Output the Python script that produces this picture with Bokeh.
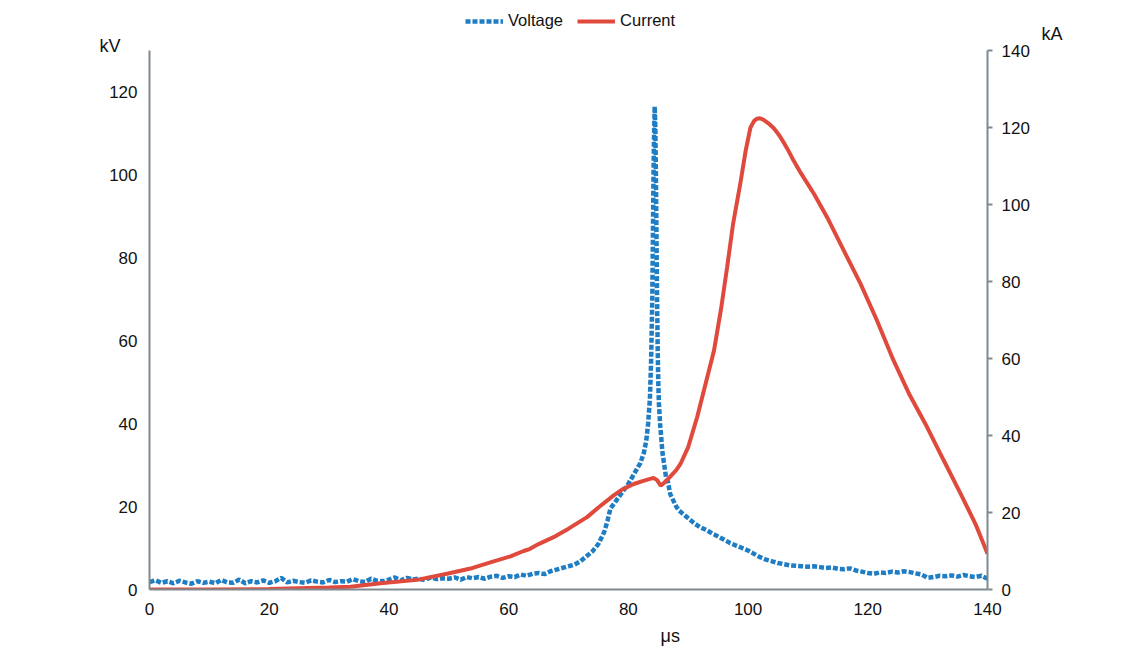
from bokeh.plotting import figure
from bokeh.models import Range1d, LinearAxis, FixedTicker, Legend, LegendItem
from bokeh.embed import file_html
from bokeh.resources import INLINE

# ---- data ----
volt_t = [0, 1, 2, 3, 4, 5, 6, 7, 8, 9, 10, 11, 12, 13, 14, 15, 16, 17, 18, 19,
          20, 21, 22, 23, 24, 25, 26, 27, 28, 29, 30, 31, 32, 33, 34, 35, 36, 37, 38, 39,
          40, 41, 42, 43, 44, 45, 46, 47, 48, 49, 50, 51, 52, 53, 54, 55, 56, 57, 58, 59,
          60, 61, 62, 63, 64, 65, 66, 67, 68, 69, 70, 71, 72, 73, 74, 75, 76, 76.5, 77, 78,
          79, 80, 81, 82, 82.6, 83, 83.3, 83.6, 83.8, 84.0, 84.1, 84.2, 84.3, 84.4, 84.5,
          84.6, 84.7, 84.8, 84.9, 85.0, 85.1, 85.3, 85.5, 85.7, 86.0, 86.3, 86.6, 87.0, 87.5,
          88, 88.5, 89, 90, 91, 92, 93, 94, 95, 96, 97, 98, 99, 100, 101, 102, 103, 104, 105,
          106, 107, 108, 109, 110, 111, 112, 113, 114, 115, 116, 117, 118, 119, 120, 121, 122,
          123, 124, 125, 126, 127, 128, 129, 130, 131, 132, 133, 134, 135, 136, 137, 138, 139, 140]
volt_kv = [1.8, 2.2, 1.6, 2.0, 1.5, 2.1, 1.7, 1.4, 2.0, 1.6, 1.9, 1.5, 2.3, 1.7, 1.6, 2.4, 1.5, 2.0, 1.7, 2.2,
           1.6, 2.0, 2.8, 1.7, 2.1, 1.8, 1.6, 2.2, 1.9, 1.7, 2.3, 1.8, 2.0, 1.9, 2.5, 2.0, 1.8, 2.6, 2.1, 2.0,
           2.4, 2.9, 2.2, 2.8, 2.4, 2.6, 2.3, 2.9, 2.5, 2.7, 2.6, 2.9, 2.4, 3.0, 2.7, 3.0, 2.6, 3.1, 3.3, 2.8,
           3.2, 3.0, 3.6, 3.3, 3.8, 4.0, 3.7, 4.4, 4.8, 5.2, 5.6, 6.0, 6.8, 8.0, 9.2, 11.0, 14.0, 16.5, 19.5, 21.5,
           23.5, 25.5, 28.0, 30.5, 33.0, 36.0, 40.0, 46.0, 55.0, 70.0, 85.0, 100.0, 110.0, 116.5, 112.0,
           100.0, 85.0, 70.0, 58.0, 50.0, 45.0, 40.0, 36.5, 33.0, 30.0, 27.0, 26.0, 23.0, 21.5,
           20.0, 19.0, 18.4, 17.2, 16.0, 15.0, 14.4, 13.5, 12.8, 12.0, 11.2, 10.6, 10.0, 9.4, 8.6, 7.8, 7.2, 6.8, 6.4,
           6.1, 5.8, 5.7, 5.6, 5.5, 5.6, 5.4, 5.2, 5.3, 5.0, 4.9, 5.1, 4.6, 4.3, 4.0, 3.8, 4.1,
           4.0, 4.3, 4.1, 4.4, 4.2, 3.9, 3.6, 2.8, 3.0, 3.3, 3.2, 3.4, 3.1, 3.5, 3.2, 3.0, 3.3, 2.6]

curr_t = [0, 10, 20, 25, 30, 33.6, 38.6, 44.7, 49.7, 54, 57.5, 60.3, 62.5, 63.5, 65, 67.5, 70,
          73.1, 75, 77.6, 79, 80.9, 82.5, 84.2, 84.8, 85.4, 85.9, 86.8, 88, 88.7, 90, 91.5, 93,
          94.3, 95.5, 96.5, 97.5, 98.7, 99.6, 100.4, 101.0, 101.5, 102.0, 102.6, 103.4, 104.3,
          105.2, 106, 106.8, 107.6, 108.8, 111, 113.2, 116, 118.8, 121.5, 124.3, 127, 129.9,
          132.7, 135.5, 138, 140]
curr_ka = [0, 0, 0.1, 0.3, 0.5, 0.7, 1.6, 2.5, 4.1, 5.6, 7.3, 8.6, 10.0, 10.5, 11.8, 13.6, 15.8,
           18.8, 21.3, 24.5, 26.0, 27.4, 28.2, 29.0, 28.4, 27.0, 27.6, 29.0, 31.0, 32.6, 37.0, 44.8, 54.0,
           62.0, 73.0, 83.7, 95.0, 105.4, 114.0, 120.0, 121.7, 122.3, 122.4, 122.0, 121.1, 119.8,
           118.0, 116.0, 113.8, 111.4, 108.2, 102.8, 96.7, 88.0, 79.4, 70.0, 59.5, 50.5, 42.2,
           33.5, 24.9, 17.0, 9.3]

x_ticks = [0, 20, 40, 60, 80, 100, 120, 140]
kv_ticks = [0, 20, 40, 60, 80, 100, 120]
ka_ticks = [0, 20, 40, 60, 80, 100, 120, 140]
x_unit, kv_unit, ka_unit = "μs", "kV", "kA"
x_unit_pos, kv_unit_pos, ka_unit_pos = 87, 131, 134

BLUE = "#1f7dc4"
RED = "#e04a3d"
AXIS = "#7f8a90"
FONT = "Liberation Sans"
TXT = "#111111"

# frame: left 149, right 987, top 0, bottom 589 (px); axes drawn only over their bounds
KV_TOP = 130 * 589 / 539.0
KA_TOP = 140 * 589 / 539.0

p = figure(width=1140, height=648, output_backend="svg", toolbar_location=None, title=None,
           x_range=Range1d(0, 140), y_range=Range1d(0, KV_TOP),
           min_border_left=149, min_border_right=153, min_border_top=0, min_border_bottom=59,
           x_axis_location=None, y_axis_location=None)
p.extra_y_ranges = {"cur": Range1d(0, KA_TOP)}
p.grid.visible = False
p.outline_line_color = None
p.background_fill_color = "white"
p.border_fill_color = "white"


def style_axis(ax, ticks, tick_out, standoff):
    ax.ticker = FixedTicker(ticks=ticks)
    ax.axis_line_color = AXIS
    ax.axis_line_width = 2
    ax.major_tick_line_color = AXIS
    ax.major_tick_line_width = 2
    ax.major_tick_out = tick_out
    ax.major_tick_in = 0
    ax.minor_tick_line_color = None
    ax.major_label_text_font = FONT
    ax.major_label_text_font_size = "17px"
    ax.major_label_text_color = TXT
    ax.major_label_standoff = standoff


def unit_axis(pos, text, standoff, **kw):
    return LinearAxis(ticker=FixedTicker(ticks=[pos]), major_label_overrides={pos: text},
                      axis_line_color=None, major_tick_line_color=None, minor_tick_line_color=None,
                      major_tick_out=0, major_tick_in=0,
                      major_label_standoff=standoff, major_label_text_font=FONT,
                      major_label_text_font_size="18px", major_label_text_color=TXT, **kw)


xa = LinearAxis(bounds=(0, 140))
style_axis(xa, x_ticks, 0, 13)
p.add_layout(xa, "below")
p.add_layout(unit_axis(x_unit_pos, x_unit, 8), "below")

ya = LinearAxis(bounds=(0, 130))
style_axis(ya, kv_ticks, 0, 12)
p.add_layout(ya, "left")
p.add_layout(unit_axis(kv_unit_pos, kv_unit, -14), "left")

ra = LinearAxis(y_range_name="cur", bounds=(0, 140))
style_axis(ra, ka_ticks, 5, 9)
p.add_layout(ra, "right")
p.add_layout(unit_axis(ka_unit_pos, ka_unit, 9), "right")

rv = p.line(volt_t, volt_kv, line_color=BLUE, line_width=4.5, line_dash="5 2")
rc = p.line(curr_t, curr_ka, line_color=RED, line_width=4, y_range_name="cur")

legend = Legend(items=[LegendItem(label="Voltage", renderers=[rv]),
                       LegendItem(label="Current", renderers=[rc])],
                orientation="horizontal", location=(316, 559),
                padding=2, spacing=14, label_standoff=5, glyph_width=38, glyph_height=16,
                label_text_font=FONT, label_text_font_size="16.5px", label_text_color=TXT,
                background_fill_alpha=0, border_line_color=None, margin=0)
p.add_layout(legend, "center")

open("out.html", "w").write(file_html(p, INLINE))
